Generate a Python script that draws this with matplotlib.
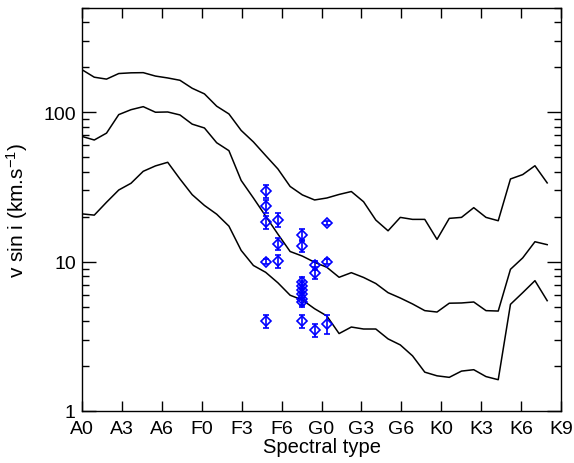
import matplotlib
matplotlib.use("Agg")
import matplotlib.pyplot as plt
from matplotlib.ticker import LogLocator, NullFormatter, FixedLocator

plt.rcParams['font.family'] = ['Liberation Sans', 'DejaVu Sans']
plt.rcParams['mathtext.default'] = 'regular'

# spectral type scale: A0 = 0, one tick every 3 subtypes
tick_labels = ['A0', 'A3', 'A6', 'F0', 'F3', 'F6', 'G0', 'G3', 'G6', 'K0', 'K3', 'K6', 'K9']
tick_pos = [0, 3, 6, 9, 12, 15, 18, 21, 24, 27, 30, 33, 36]

# model curves (upper / middle / lower envelope)
spt = [0.00, 0.92, 1.84, 2.76, 3.68, 4.60, 5.52, 6.44, 7.36, 8.28,
       9.20, 10.12, 11.04, 11.96, 12.88, 13.80, 14.72, 15.64, 16.56, 17.48,
       18.40, 19.32, 20.24, 21.16, 22.08, 23.00, 23.92, 24.84, 25.76, 26.68,
       27.60, 28.52, 29.44, 30.36, 31.28, 32.20, 33.12, 34.04, 34.96]
vsini_high = [193, 172, 167, 182, 184, 184.5, 175, 170, 164, 145,
              133, 110, 97.6, 75.7, 63.4, 51.4, 41.8, 31.9, 28.0, 25.9,
              26.7, 28.2, 29.5, 25.2, 19.0, 16.1, 19.8, 19.2, 19.2, 14.1,
              19.5, 19.8, 23.0, 19.8, 18.8, 35.8, 38.3, 43.9, 33.7]
vsini_mid = [69.0, 65.3, 72.6, 96.6, 104.2, 109.2, 100.2, 100.6, 96.1, 83.4,
             78.6, 62.6, 55.4, 35.0, 26.7, 20.2, 15.3, 11.7, 10.9, 9.91,
             9.17, 7.86, 8.44, 7.84, 7.14, 6.20, 5.71, 5.21, 4.70, 4.60,
             5.27, 5.29, 5.37, 4.70, 4.67, 8.89, 10.6, 13.6, 13.0]
vsini_low = [20.9, 20.5, 25.0, 30.2, 33.5, 40.3, 43.8, 46.3, 35.8, 28.1,
             23.8, 20.8, 17.3, 11.9, 9.43, 8.49, 7.22, 5.96, 5.54, 4.84,
             4.33, 3.30, 3.65, 3.54, 3.54, 3.04, 2.77, 2.34, 1.82, 1.72,
             1.68, 1.85, 1.89, 1.70, 1.62, 5.18, 6.20, 7.46, 5.48]

# measured stars
star_spt = [13.80, 13.80, 13.80, 13.80, 13.80,
            14.72, 14.72, 14.72,
            16.56, 16.56, 16.56, 16.56, 16.56, 16.56, 16.56, 16.56, 16.56,
            17.48, 17.48, 17.48,
            18.40, 18.40, 18.40]
star_vsini = [29.8, 23.6, 18.4, 10.0, 3.98,
              19.1, 13.2, 10.1,
              15.1, 12.8, 7.28, 6.84, 6.46, 6.08, 5.63, 5.35, 3.99,
              9.46, 8.40, 3.46,
              18.1, 10.0, 3.83]
star_err = [3.0, 2.4, 1.9, 0.4, 0.4,
            2.0, 1.3, 1.0,
            1.4, 1.2, 0.6, 0.6, 0.5, 0.5, 0.5, 0.4, 0.4,
            0.7, 0.8, 0.35,
            0.5, 0.4, 0.55]

fig = plt.figure(figsize=(5.74, 4.64), dpi=100)
ax = fig.add_axes([0.1429, 0.1121, 0.8345, 0.8685])

for curve in (vsini_high, vsini_mid, vsini_low):
    ax.plot(spt, curve, color='black', lw=1.1)

ax.errorbar(star_spt, star_vsini, yerr=star_err, fmt='D', ms=5.2,
            mfc='none', mec='blue', mew=1.2, ecolor='blue', elinewidth=1.2,
            capsize=2, capthick=1.2, zorder=3)

ax.set_yscale('log')
ax.set_ylim(1, 500)
ax.set_xlim(0, 36)

ax.xaxis.set_major_locator(FixedLocator(tick_pos))
ax.set_xticklabels(tick_labels)
ax.yaxis.set_minor_locator(LogLocator(base=10, subs=range(2, 10), numticks=10))
ax.yaxis.set_minor_formatter(NullFormatter())
ax.set_yticks([1, 10, 100])
ax.set_yticklabels(['1', '10', '100'])

ax.tick_params(axis='both', which='major', direction='in', top=True, right=True,
               labelsize=14, width=1)
ax.tick_params(axis='x', which='major', length=7, pad=6.5)
ax.tick_params(axis='y', which='major', length=10, pad=4.5)
ax.tick_params(axis='y', which='minor', direction='in', right=True, length=5, width=1)
ax.tick_params(axis='x', which='minor', bottom=False, top=False)

for sp in ax.spines.values():
    sp.set_linewidth(1)

ax.set_xlabel('Spectral type', fontsize=14.5, labelpad=0)
ax.set_ylabel('v sin i (km.s$^{-1}$)', fontsize=15, labelpad=9.5)

fig.savefig('out.png', dpi=100)
